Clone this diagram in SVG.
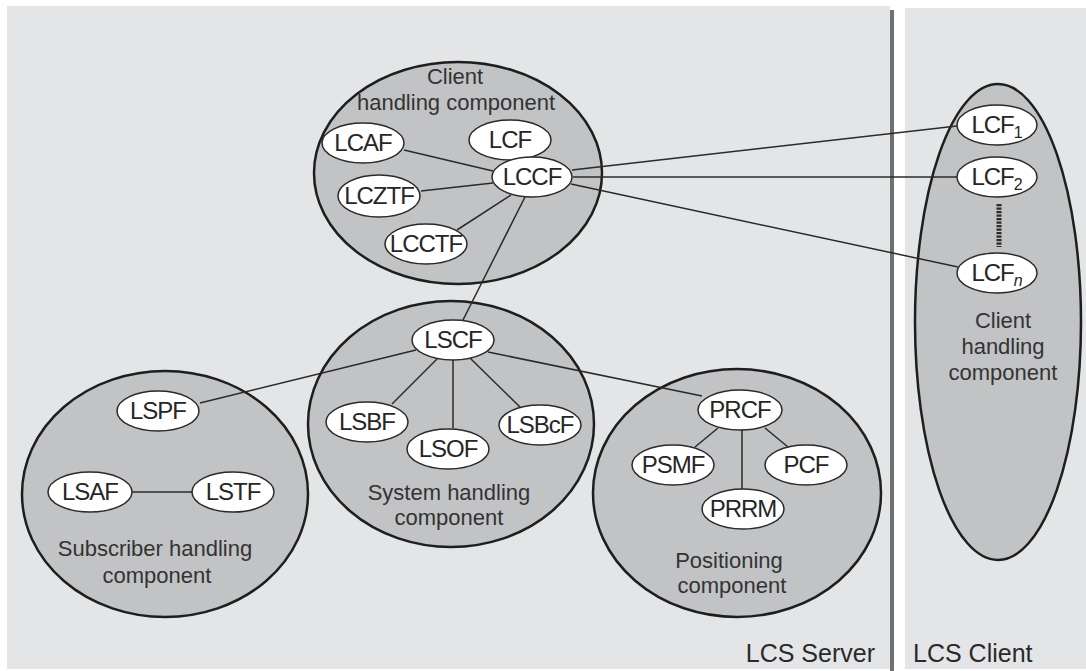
<svg xmlns="http://www.w3.org/2000/svg" width="1086" height="671" viewBox="0 0 1086 671">
  <style>
    .panel { fill: #e4e5e6; }
    .comp { fill: #c2c3c5; stroke: #1e1e1e; stroke-width: 2.5; }
    .fn { fill: #ffffff; stroke: #2a2a2a; stroke-width: 1.5; }
    .fnt { font-family: "Liberation Sans", Arial, sans-serif; font-size: 24px; letter-spacing: -1px; fill: #262626; text-anchor: middle; }
    .lbl { font-family: "Liberation Sans", Arial, sans-serif; font-size: 22px; fill: #333333; text-anchor: middle; }
    .area { font-family: "Liberation Sans", Arial, sans-serif; font-size: 25px; fill: #2a2a2a; }
    .sub { font-size: 16px; letter-spacing: 0; }
    .link { stroke: #2a2a2a; stroke-width: 1.5; fill: none; }
  </style>

  <rect width="1086" height="671" fill="#ffffff"/>

  <!-- Server and client areas -->
  <g id="server-area">
    <rect class="panel" x="7" y="6" width="883" height="663"/>
    <text class="area" x="875" y="662" text-anchor="end">LCS Server</text>
  </g>
  <rect x="890" y="10" width="4" height="661" fill="#6f7072"/>
  <g id="client-area">
    <rect class="panel" x="905" y="8" width="181" height="661"/>
    <text class="area" x="913" y="662">LCS Client</text>
  </g>

  <!-- Component ellipses -->
  <g id="client-handling-server">
    <ellipse class="comp" cx="458" cy="173" rx="144" ry="111"/>
    <text class="lbl" x="455" y="84">Client</text>
    <text class="lbl" x="456" y="110">handling component</text>
  </g>
  <g id="client-handling-client">
    <ellipse class="comp" cx="998" cy="322" rx="83" ry="238"/>
    <text class="lbl" x="1003" y="328">Client</text>
    <text class="lbl" x="1003" y="354">handling</text>
    <text class="lbl" x="1003" y="380">component</text>
  </g>
  <g id="subscriber-handling">
    <ellipse class="comp" cx="165" cy="494" rx="143" ry="123"/>
    <text class="lbl" x="155" y="556">Subscriber handling</text>
    <text class="lbl" x="157" y="583">component</text>
  </g>
  <g id="system-handling">
    <ellipse class="comp" cx="451" cy="424" rx="143" ry="123"/>
    <text class="lbl" x="449" y="500">System handling</text>
    <text class="lbl" x="449" y="525">component</text>
  </g>
  <g id="positioning">
    <ellipse class="comp" cx="737" cy="493" rx="144" ry="124"/>
    <text class="lbl" x="729" y="568">Positioning</text>
    <text class="lbl" x="732" y="593">component</text>
  </g>

  <!-- Connectors -->
  <g id="connectors">
    <line class="link" x1="404" y1="150" x2="493" y2="171"/>
    <line class="link" x1="421" y1="191" x2="493" y2="183"/>
    <line class="link" x1="457" y1="230" x2="511" y2="195"/>
    <line class="link" x1="525" y1="197" x2="463" y2="320"/>
    <line class="link" x1="572" y1="170" x2="957" y2="126"/>
    <line class="link" x1="573" y1="177" x2="957" y2="177"/>
    <line class="link" x1="571" y1="184" x2="958" y2="267"/>
    <line x1="999" y1="204" x2="999" y2="247" stroke="#2a2a2a" stroke-width="5" stroke-dasharray="2.2 1.3"/>
    <line class="link" x1="416" y1="350" x2="200" y2="403"/>
    <line class="link" x1="488" y1="352" x2="702" y2="396"/>
    <line class="link" x1="437" y1="359" x2="392" y2="404"/>
    <line class="link" x1="453" y1="360" x2="453" y2="428"/>
    <line class="link" x1="470" y1="358" x2="520" y2="407"/>
    <line class="link" x1="132" y1="492" x2="192" y2="492"/>
    <line class="link" x1="718" y1="428" x2="695" y2="447"/>
    <line class="link" x1="742" y1="430" x2="742" y2="490"/>
    <line class="link" x1="765" y1="428" x2="788" y2="447"/>
  </g>

  <!-- Function nodes -->
  <g id="LCAF"><ellipse class="fn" cx="363" cy="143" rx="41" ry="20"/><text class="fnt" x="363" y="151">LCAF</text></g>
  <g id="LCF"><ellipse class="fn" cx="510" cy="140" rx="41" ry="20"/><text class="fnt" x="510" y="148">LCF</text></g>
  <g id="LCCF"><ellipse class="fn" cx="532" cy="177" rx="40" ry="20"/><text class="fnt" x="532" y="185">LCCF</text></g>
  <g id="LCZTF"><ellipse class="fn" cx="379" cy="196" rx="41" ry="21"/><text class="fnt" x="379" y="204">LCZTF</text></g>
  <g id="LCCTF"><ellipse class="fn" cx="426" cy="244" rx="41" ry="20"/><text class="fnt" x="426" y="252">LCCTF</text></g>

  <g id="LCF1"><ellipse class="fn" cx="997" cy="125" rx="40" ry="20"/><text class="fnt" x="997" y="133">LCF<tspan class="sub" dy="5">1</tspan></text></g>
  <g id="LCF2"><ellipse class="fn" cx="997" cy="177" rx="40" ry="20"/><text class="fnt" x="997" y="185">LCF<tspan class="sub" dy="5">2</tspan></text></g>
  <g id="LCFn"><ellipse class="fn" cx="997" cy="273" rx="40" ry="20"/><text class="fnt" x="997" y="281">LCF<tspan class="sub" dy="5" font-style="italic">n</tspan></text></g>

  <g id="LSCF"><ellipse class="fn" cx="453" cy="340" rx="41" ry="20"/><text class="fnt" x="453" y="348">LSCF</text></g>
  <g id="LSBF"><ellipse class="fn" cx="367" cy="422" rx="41" ry="20"/><text class="fnt" x="367" y="430">LSBF</text></g>
  <g id="LSOF"><ellipse class="fn" cx="448" cy="449" rx="41" ry="20"/><text class="fnt" x="448" y="457">LSOF</text></g>
  <g id="LSBcF"><ellipse class="fn" cx="540" cy="425" rx="41" ry="20"/><text class="fnt" x="540" y="433">LSBcF</text></g>

  <g id="LSPF"><ellipse class="fn" cx="158" cy="411" rx="41" ry="20"/><text class="fnt" x="158" y="419">LSPF</text></g>
  <g id="LSAF"><ellipse class="fn" cx="90" cy="492" rx="42" ry="20"/><text class="fnt" x="90" y="500">LSAF</text></g>
  <g id="LSTF"><ellipse class="fn" cx="233" cy="492" rx="41" ry="20"/><text class="fnt" x="233" y="500">LSTF</text></g>

  <g id="PRCF"><ellipse class="fn" cx="740" cy="410" rx="42" ry="20"/><text class="fnt" x="740" y="418">PRCF</text></g>
  <g id="PSMF"><ellipse class="fn" cx="673" cy="465" rx="41" ry="20"/><text class="fnt" x="673" y="473">PSMF</text></g>
  <g id="PCF"><ellipse class="fn" cx="806" cy="465" rx="41" ry="20"/><text class="fnt" x="806" y="473">PCF</text></g>
  <g id="PRRM"><ellipse class="fn" cx="743" cy="509" rx="41" ry="20"/><text class="fnt" x="743" y="517">PRRM</text></g>
</svg>
